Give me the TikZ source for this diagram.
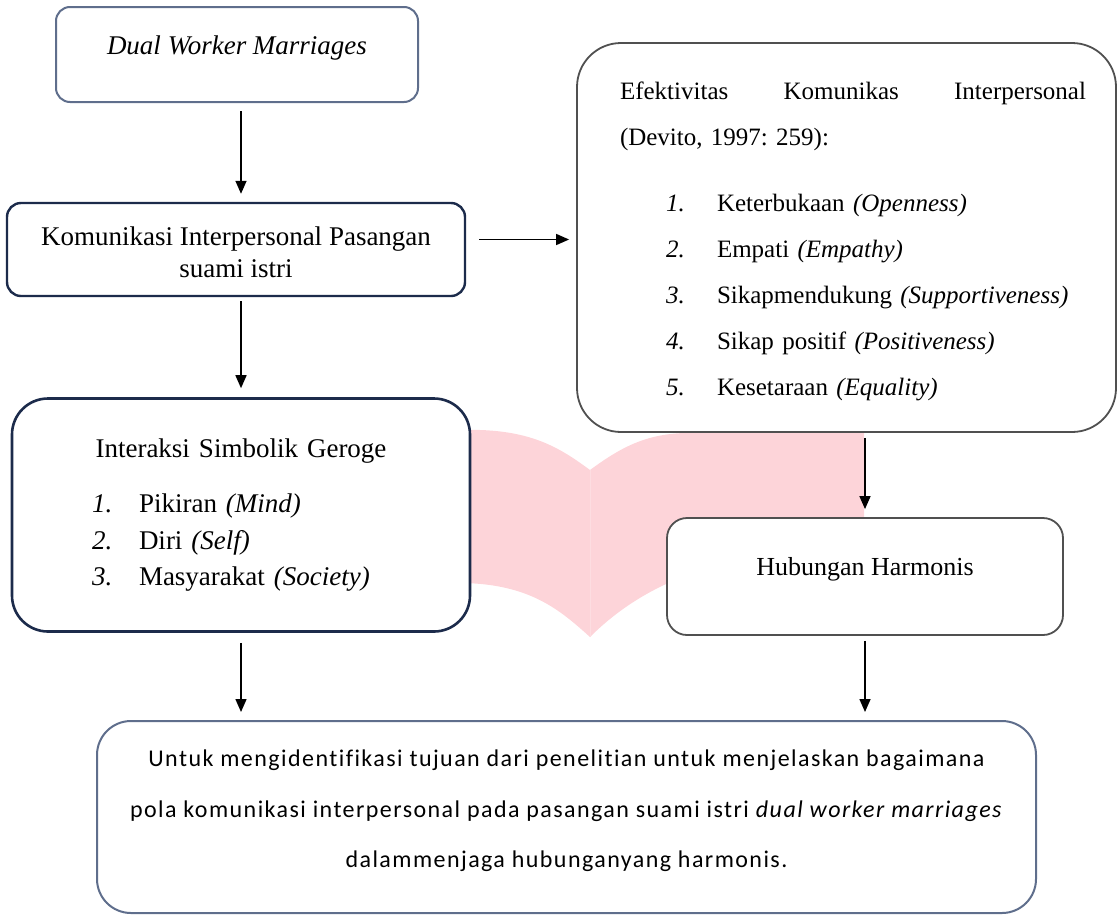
\documentclass[tikz,border=0pt]{standalone}
\usepackage{fontspec}
\setmainfont{Liberation Serif}
\newfontfamily\goalfont[LetterSpace=6, Ligatures=NoCommon]{Carlito}
\usetikzlibrary{arrows.meta}

\definecolor{navy}{HTML}{1C2B4B}
\definecolor{slate}{HTML}{5F6E8C}
\definecolor{greyline}{HTML}{505050}
\definecolor{bookpink}{RGB}{253,212,217}

\begin{document}
\frenchspacing
\begin{tikzpicture}[x=0.5pt, y=-0.5pt,
    box/.style={draw, rounded corners=#1, fill=white, inner sep=0pt},
    box/.default=8pt,
    arr/.style={-{Triangle[length=6.5pt, width=5.5pt]}, line width=0.75pt}]
    \useasboundingbox (0,0) rectangle (1118,916);

    % open book behind the boxes
    \fill[bookpink] (462,430) .. controls (530,428) and (560,448) .. (590,470)
        .. controls (620,448) and (645,434) .. (685,433) -- (864,433) -- (864,600) -- (680,578)
        .. controls (645,592) and (615,612) .. (590,637)
        .. controls (560,610) and (530,584) .. (462,583) -- cycle;
    \draw[bookpink!80!white, line width=0.5pt] (590,470) -- (590,637);

    \node[box=7pt, draw=slate, line width=1pt, minimum width=181pt, minimum height=47.5pt,
        font=\itshape\fontsize{13.5}{16}\selectfont, text depth=9pt] (dual) at (237,54.5) {Dual Worker Marriages};

    \node[box=7pt, draw=navy, line width=1.2pt, minimum width=229pt, minimum height=46.5pt,
        align=center, font=\fontsize{13.5}{16}\selectfont] (kom) at (236,249.5)
        {\rule{0pt}{12.5pt}Komunikasi Interpersonal Pasangan\\suami istri};

    \node[box=22pt, draw=greyline, line width=0.9pt, minimum width=269.5pt, minimum height=194.5pt,
        text width=239.5pt, align=left, font=\fontsize{12.5}{23}\selectfont] (eff) at (846.5,237.5)
        {\hspace*{6.5pt}\rule{0pt}{12.6pt}Efektivitas\hfill Komunikas\hfill Interpersonal\\
         \hspace*{6.5pt}(Devito, 1997: 259):\\[9.6pt]
         \hspace*{29.5pt}\makebox[25.5pt][l]{\textit{1.}}\mbox{Keterbukaan \textit{(Openness)}}\\
         \hspace*{29.5pt}\makebox[25.5pt][l]{\textit{2.}}\mbox{Empati \textit{(Empathy)}}\\
         \hspace*{29.5pt}\makebox[25.5pt][l]{\textit{3.}}\mbox{Sikapmendukung \textit{(Supportiveness)}}\\
         \hspace*{29.5pt}\makebox[25.5pt][l]{\textit{4.}}\mbox{Sikap positif \textit{(Positiveness)}}\\
         \hspace*{29.5pt}\makebox[25.5pt][l]{\textit{5.}}\mbox{Kesetaraan \textit{(Equality)}}};

    \node[box=18pt, draw=navy, line width=1.3pt, minimum width=229pt, minimum height=116.5pt,
        text width=229pt, align=left, font=\fontsize{13.5}{18.25}\selectfont] (inter) at (241,515)
        {\hfill Interaksi Simbolik Geroge\hfill\null\\[9.3pt]
         \hspace*{40pt}\makebox[23.5pt][l]{\textit{1.}}Pikiran \textit{(Mind)}\\
         \hspace*{40pt}\makebox[23.5pt][l]{\textit{2.}}Diri \textit{(Self)}\\
         \hspace*{40pt}\makebox[23.5pt][l]{\textit{3.}}Masyarakat \textit{(Society)}};

    \node[box=10pt, draw=greyline, line width=0.9pt, minimum width=198pt, minimum height=58.5pt,
        font=\fontsize{13}{15}\selectfont, text depth=10.3pt] (hub) at (865,576.5) {Hubungan Harmonis};

    \node[box=17pt, draw=slate, line width=1pt, minimum width=469.5pt, minimum height=96pt,
        align=center, font=\goalfont\fontsize{12}{25.25}\selectfont] (goal) at (566.5,817)
        {Untuk mengidentifikasi tujuan dari penelitian untuk menjelaskan bagaimana\\
         pola komunikasi interpersonal pada pasangan suami istri \textit{dual worker marriages}\\
         dalammenjaga hubunganyang harmonis.\rule[-8pt]{0pt}{0pt}};

    % arrows
    \draw[arr, shorten <=4pt, shorten >=4pt] (dual.south -| inter.north) -- (kom.north -| inter.north);
    \draw[arr, shorten <=2pt, shorten >=4.5pt] (kom.south -| inter.north) -- (inter.north);
    \draw[arr, shorten <=6.5pt, shorten >=3.5pt] ([yshift=5pt]kom.east) -- ([yshift=5pt]kom.east -| eff.west);
    \draw[arr, shorten <=2.5pt, shorten >=4pt] (eff.south -| hub.north) -- (hub.north);
    \draw[arr, shorten <=5pt, shorten >=4pt] (inter.south) -- (inter.south |- goal.north);
    \draw[arr, shorten <=2.5pt, shorten >=4pt] (hub.south) -- (hub.south |- goal.north);
\end{tikzpicture}
\end{document}
